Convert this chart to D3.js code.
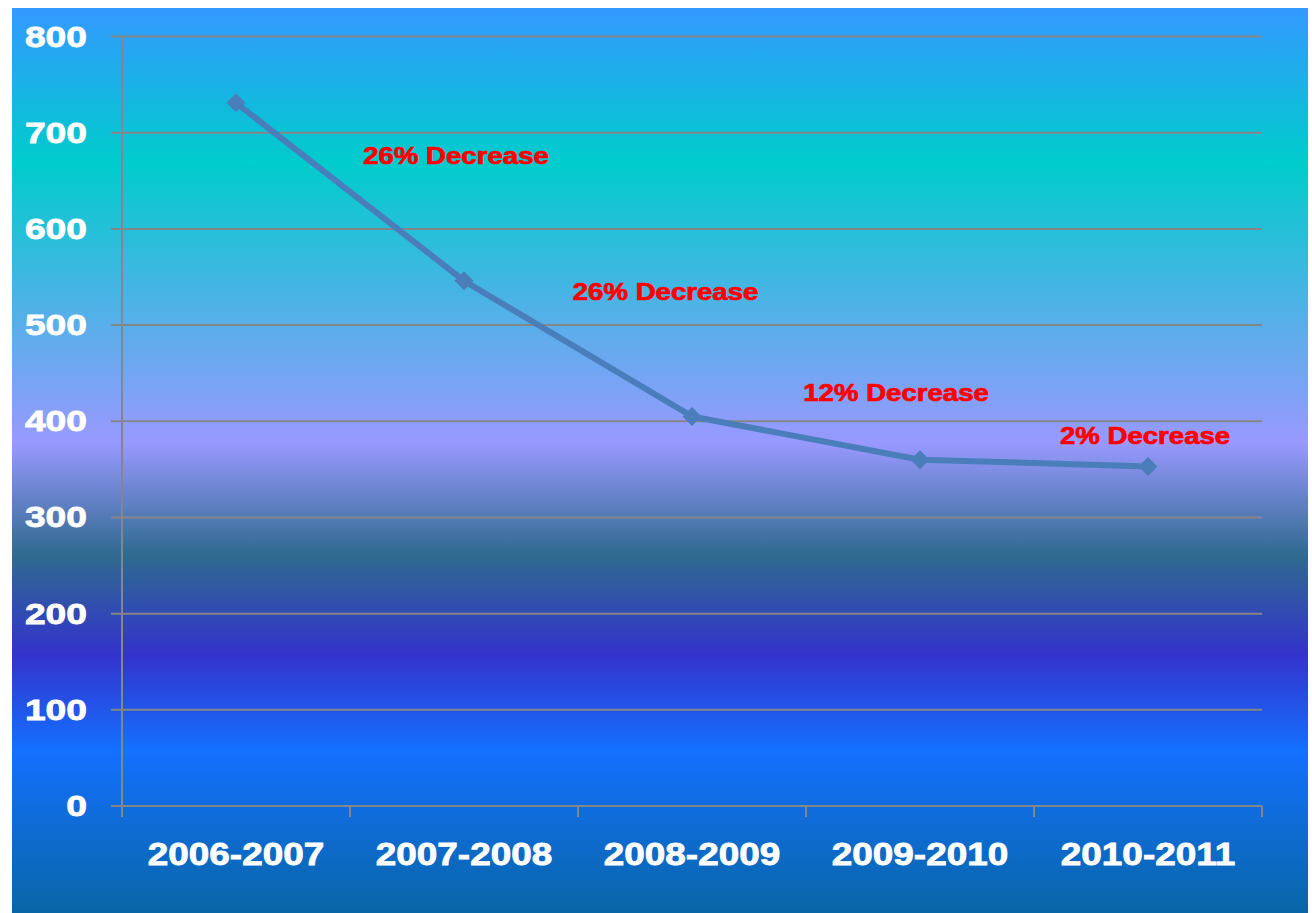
<!DOCTYPE html>
<html>
<head>
<meta charset="utf-8">
<script src="https://cdn.jsdelivr.net/npm/d3@7"></script>
<style>
  body { margin: 0; background: #fff; }
  svg { display: block; }
  text { font-family: "Liberation Sans", Arial, sans-serif; font-weight: bold; }
</style>
</head>
<body>
<div id="chart"></div>
<script>
	var categories = ['2006-2007', '2007-2008', '2008-2009', '2009-2010', '2010-2011'];
	var values = [731, 546, 405, 360, 353];
	var yTicks = [0, 100, 200, 300, 400, 500, 600, 700, 800];

	/* annotations: text, position along categories (index), value height */
	var noteLabels = ['26% Decrease', '26% Decrease', '12% Decrease', '2% Decrease'];
	var noteIndex = [0.965, 1.884, 2.895, 3.987];
	var noteValue = [667, 526, 421, 376];

	var W = 1312, H = 913;
	var svg = d3.select('#chart').append('svg').attr('width', W).attr('height', H);

	/* background gradient */
	var grad = svg.append('defs').append('linearGradient')
		.attr('id', 'bg').attr('x1', 0).attr('y1', 0).attr('x2', 0).attr('y2', 1);
	[[0, '#3399ff'], [0.171, '#00cccc'], [0.48, '#9999ff'], [0.605, '#2f6a8f'],
	 [0.715, '#3333cc'], [0.82, '#1470ff'], [1, '#0866a6']].forEach(function (s) {
		grad.append('stop').attr('offset', s[0]).attr('stop-color', s[1]);
	});
	svg.append('rect').attr('x', 12).attr('y', 8).attr('width', 1296).attr('height', 905)
		.attr('fill', 'url(#bg)');

	var plotL = 122, plotR = 1262, plotT = 36.5, plotB = 806;
	var x = d3.scaleBand().domain(categories).range([plotL, plotR]);
	var y = d3.scaleLinear().domain([0, 800]).range([plotB, plotT]);
	function xi(i) { return plotL + (i + 0.5) * x.bandwidth(); }

	var g = svg.append('g');

	/* gridlines + y ticks */
	g.selectAll('line.grid').data(yTicks).enter().append('line')
		.attr('class', 'grid')
		.attr('x1', plotL - 11).attr('x2', plotR)
		.attr('y1', function (d) { return y(d); }).attr('y2', function (d) { return y(d); })
		.attr('stroke', '#868686').attr('stroke-width', 2);

	/* y axis line */
	g.append('line').attr('x1', plotL).attr('x2', plotL).attr('y1', plotT).attr('y2', plotB + 11)
		.attr('stroke', '#868686').attr('stroke-width', 2);

	/* x ticks at band edges */
	var edges = categories.map(function (c) { return x(c); }).concat([plotR]);
	g.selectAll('line.xt').data(edges).enter().append('line')
		.attr('class', 'xt')
		.attr('x1', function (d) { return d; }).attr('x2', function (d) { return d; })
		.attr('y1', plotB).attr('y2', plotB + 11)
		.attr('stroke', '#868686').attr('stroke-width', 2);

	/* y labels */
	g.selectAll('text.yl').data(yTicks).enter().append('text')
		.attr('class', 'yl')
		.attr('transform', function (d) { return 'translate(87,' + (y(d) + 10) + ') scale(1.24,1)'; })
		.attr('text-anchor', 'end').attr('font-size', 30).attr('fill', '#fff')
		.attr('stroke', '#fff').attr('stroke-width', 0.8)
		.text(function (d) { return d; });

	/* x labels */
	g.selectAll('text.xl').data(categories).enter().append('text')
		.attr('class', 'xl')
		.attr('transform', function (d) { return 'translate(' + (x(d) + x.bandwidth() / 2) + ',865) scale(1.19,1)'; })
		.attr('text-anchor', 'middle').attr('font-size', 31).attr('fill', '#fff')
		.attr('stroke', '#fff').attr('stroke-width', 0.8)
		.text(function (d) { return d; });

	/* line */
	var line = d3.line()
		.x(function (d, i) { return xi(i); })
		.y(function (d) { return y(d); });
	g.append('path').datum(values).attr('d', line)
		.attr('fill', 'none').attr('stroke', '#4a7ebb').attr('stroke-width', 6)
		.attr('stroke-linejoin', 'round');

	g.selectAll('path.mk').data(values).enter().append('path')
		.attr('class', 'mk')
		.attr('d', d3.symbol().type(d3.symbolDiamond2).size(230))
		.attr('transform', function (d, i) { return 'translate(' + xi(i) + ',' + y(d) + ')'; })
		.attr('fill', '#4a7ebb');

	/* annotations */
	g.selectAll('text.note').data(noteLabels).enter().append('text')
		.attr('class', 'note')
		.attr('transform', function (d, i) { return 'translate(' + xi(noteIndex[i]) + ',' + y(noteValue[i]) + ') scale(1.2,1)'; })
		.attr('text-anchor', 'middle').attr('font-size', 23).attr('fill', '#ff0000')
		.attr('stroke', '#ff0000').attr('stroke-width', 0.7)
		.text(function (d) { return d; });
</script>
</body>
</html>
